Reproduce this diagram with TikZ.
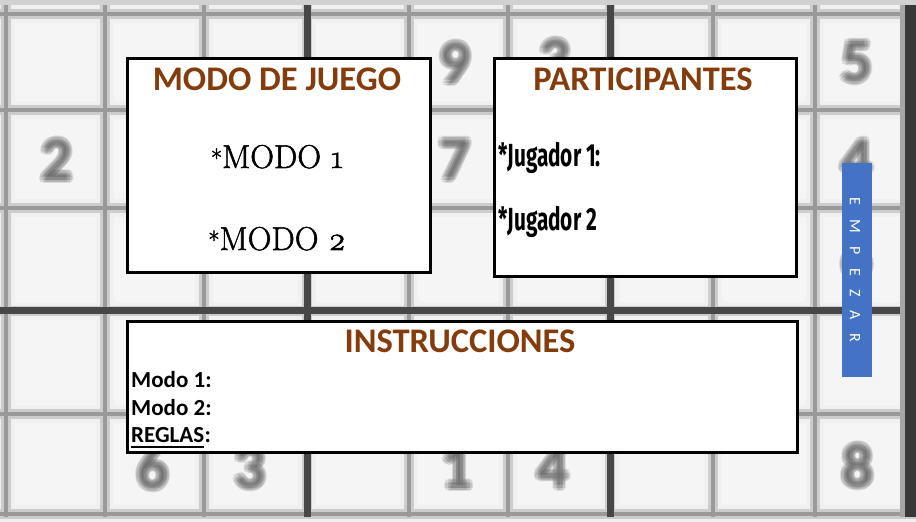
\documentclass[tikz,border=0pt]{standalone}
\usepackage{fontspec}
\setmainfont{Carlito}
\newfontfamily\modofont[Numbers=OldStyle, FakeBold=1.6]{Latin Modern Roman}
\newfontfamily\agencyfont[FakeStretch=0.65]{Fira Sans}
\usetikzlibrary{calc}
\definecolor{headbrown}{HTML}{843C0C}
\definecolor{barblue}{HTML}{4472C4}
\definecolor{cellbg}{HTML}{F5F5F5}
\newcommand\smallstar{\raisebox{1bp}{\scalebox{0.75}{*}}}
\newcommand\bcopy[3]{\rlap{\kern#1bp\raisebox{#2bp}{#3}}}
\newcommand\blurdig[1]{\bcopy{0}{0}{#1}\bcopy{-2.5}{2.5}{#1}\bcopy{2.5}{2.5}{#1}\bcopy{-2.5}{-2.5}{#1}\bcopy{2.5}{-2.5}{#1}\bcopy{-3.5}{0}{#1}\bcopy{3.5}{0}{#1}\bcopy{0}{3.5}{#1}\bcopy{0}{-3.5}{#1}\phantom{#1}}
\tikzset{
  panel/.style={draw=black, line width=3bp, fill=white, inner sep=0, anchor=north west},
  heading/.style={text=headbrown, font=\fontsize{34.5bp}{40bp}\selectfont\bfseries, anchor=base, inner sep=0},
  modoitem/.style={font=\modofont\fontsize{33bp}{38bp}\selectfont, anchor=base, inner sep=0},
  player/.style={font=\agencyfont\bfseries\fontsize{32bp}{38bp}\selectfont, anchor=base west, inner sep=0},
  instr/.style={font=\bfseries\fontsize{23bp}{27bp}\selectfont, anchor=base west, inner sep=0},
  gglow/.style={line width=18bp, draw=black!6},
  gmid/.style={line width=10bp, draw=black!20},
  gthin/.style={line width=4bp, draw=black!40},
  gthick/.style={line width=7bp, draw=black!72},
  digit/.style={font=\bfseries\fontsize{62bp}{70bp}\selectfont, text=black!70, text opacity=0.15, inner sep=0},
}
\begin{document}
\begin{tikzpicture}[x=1bp,y=-1bp]
\useasboundingbox (0,0) rectangle (916,522);
% background
\fill[cellbg] (0,0) rectangle (916,522);
\fill[black!18] (0,0) rectangle (916,5);
\fill[black!18] (0,517) rectangle (916,522);
% blurred grid
\foreach \x in {6,105,204,307,409,508,610,713,815,908}
  \draw[gglow] (\x,5) -- (\x,517);
\foreach \y in {14,110,208,311,414,514}
  \draw[gglow] (0,\y) -- (916,\y);
\foreach \x in {6,105,204,307,409,508,610,713,815}
  \draw[gmid] (\x,5) -- (\x,517);
\foreach \y in {14,110,208,311,414,514}
  \draw[gmid] (0,\y) -- (916,\y);
\foreach \x in {6,105,204,409,508,713,815}
  \draw[gthin] (\x,5) -- (\x,517);
\foreach \y in {14,110,208,414,514}
  \draw[gthin] (0,\y) -- (916,\y);
\draw[gthick] (307,5) -- (307,517);
\draw[gthick] (610,5) -- (610,517);
\draw[gthick] (0,311) -- (916,311);
\fill[black!35] (900,5) rectangle (916,517);
\fill[black!78] (905,5) rectangle (916,517);
% blurred digits
\foreach \x/\y/\d/\n in {455/63/9/a, 555/60/3/b, 857/62/5/c, 57/160/2/d, 455/160/7/e, 857/160/4/f, 857/258/6/g, 153/468/6/h, 250/468/3/i, 457/468/1/j, 553/468/4/k, 858/466/8/l}
    \node[digit] (dig\n) at (\x,\y) {\blurdig{\d}};
% panels
\node[panel, minimum width=303bp, minimum height=213bp] (modobox) at (125.5,57.5) {};
\node[panel, minimum width=302bp, minimum height=217bp] (partbox) at (492.5,57.5) {};
\node[panel, minimum width=670bp, minimum height=130bp] (instrbox) at (125.5,320.5) {};
% start bar
\node[fill=barblue, inner sep=0, anchor=north west, minimum width=30bp, minimum height=214bp] (empezar) at (842,163) {};
\node[rotate=-90, text=white, inner sep=0, font=\fontsize{16bp}{18bp}\selectfont] (empezartxt) at (855,270) {E\hspace{13.5bp}M\hspace{13.5bp}P\hspace{13.5bp}E\hspace{13.5bp}Z\hspace{13.5bp}A\hspace{13.5bp}R};
% texts
\node[heading] (modotitle) at (277,91) {MODO DE JUEGO};
\node[modoitem] (modo1) at (277,168) {\smallstar MODO 1};
\node[modoitem] (modo2) at (277,250) {\smallstar MODO 2};
\node[heading] (parttitle) at (643,91) {PARTICIPANTES};
\node[player] (jug1) at (498,167) {*Jugador 1:};
\node[player] (jug2) at (498,231) {*Jugador 2};
\node[heading] (instrtitle) at (460,353) {INSTRUCCIONES};
\node[instr] (imodo1) at (131,387) {Modo 1:};
\node[instr] (imodo2) at (131,415) {Modo 2:};
\node[instr] (reglas) at (131,442) {REGLAS};
\node[instr] (reglascolon) at (reglas.base east) {:};
\draw[line width=1.8bp] ($(reglas.base west)+(0,5)$) -- ($(reglas.base east)+(0,5)$);
\end{tikzpicture}
\end{document}
